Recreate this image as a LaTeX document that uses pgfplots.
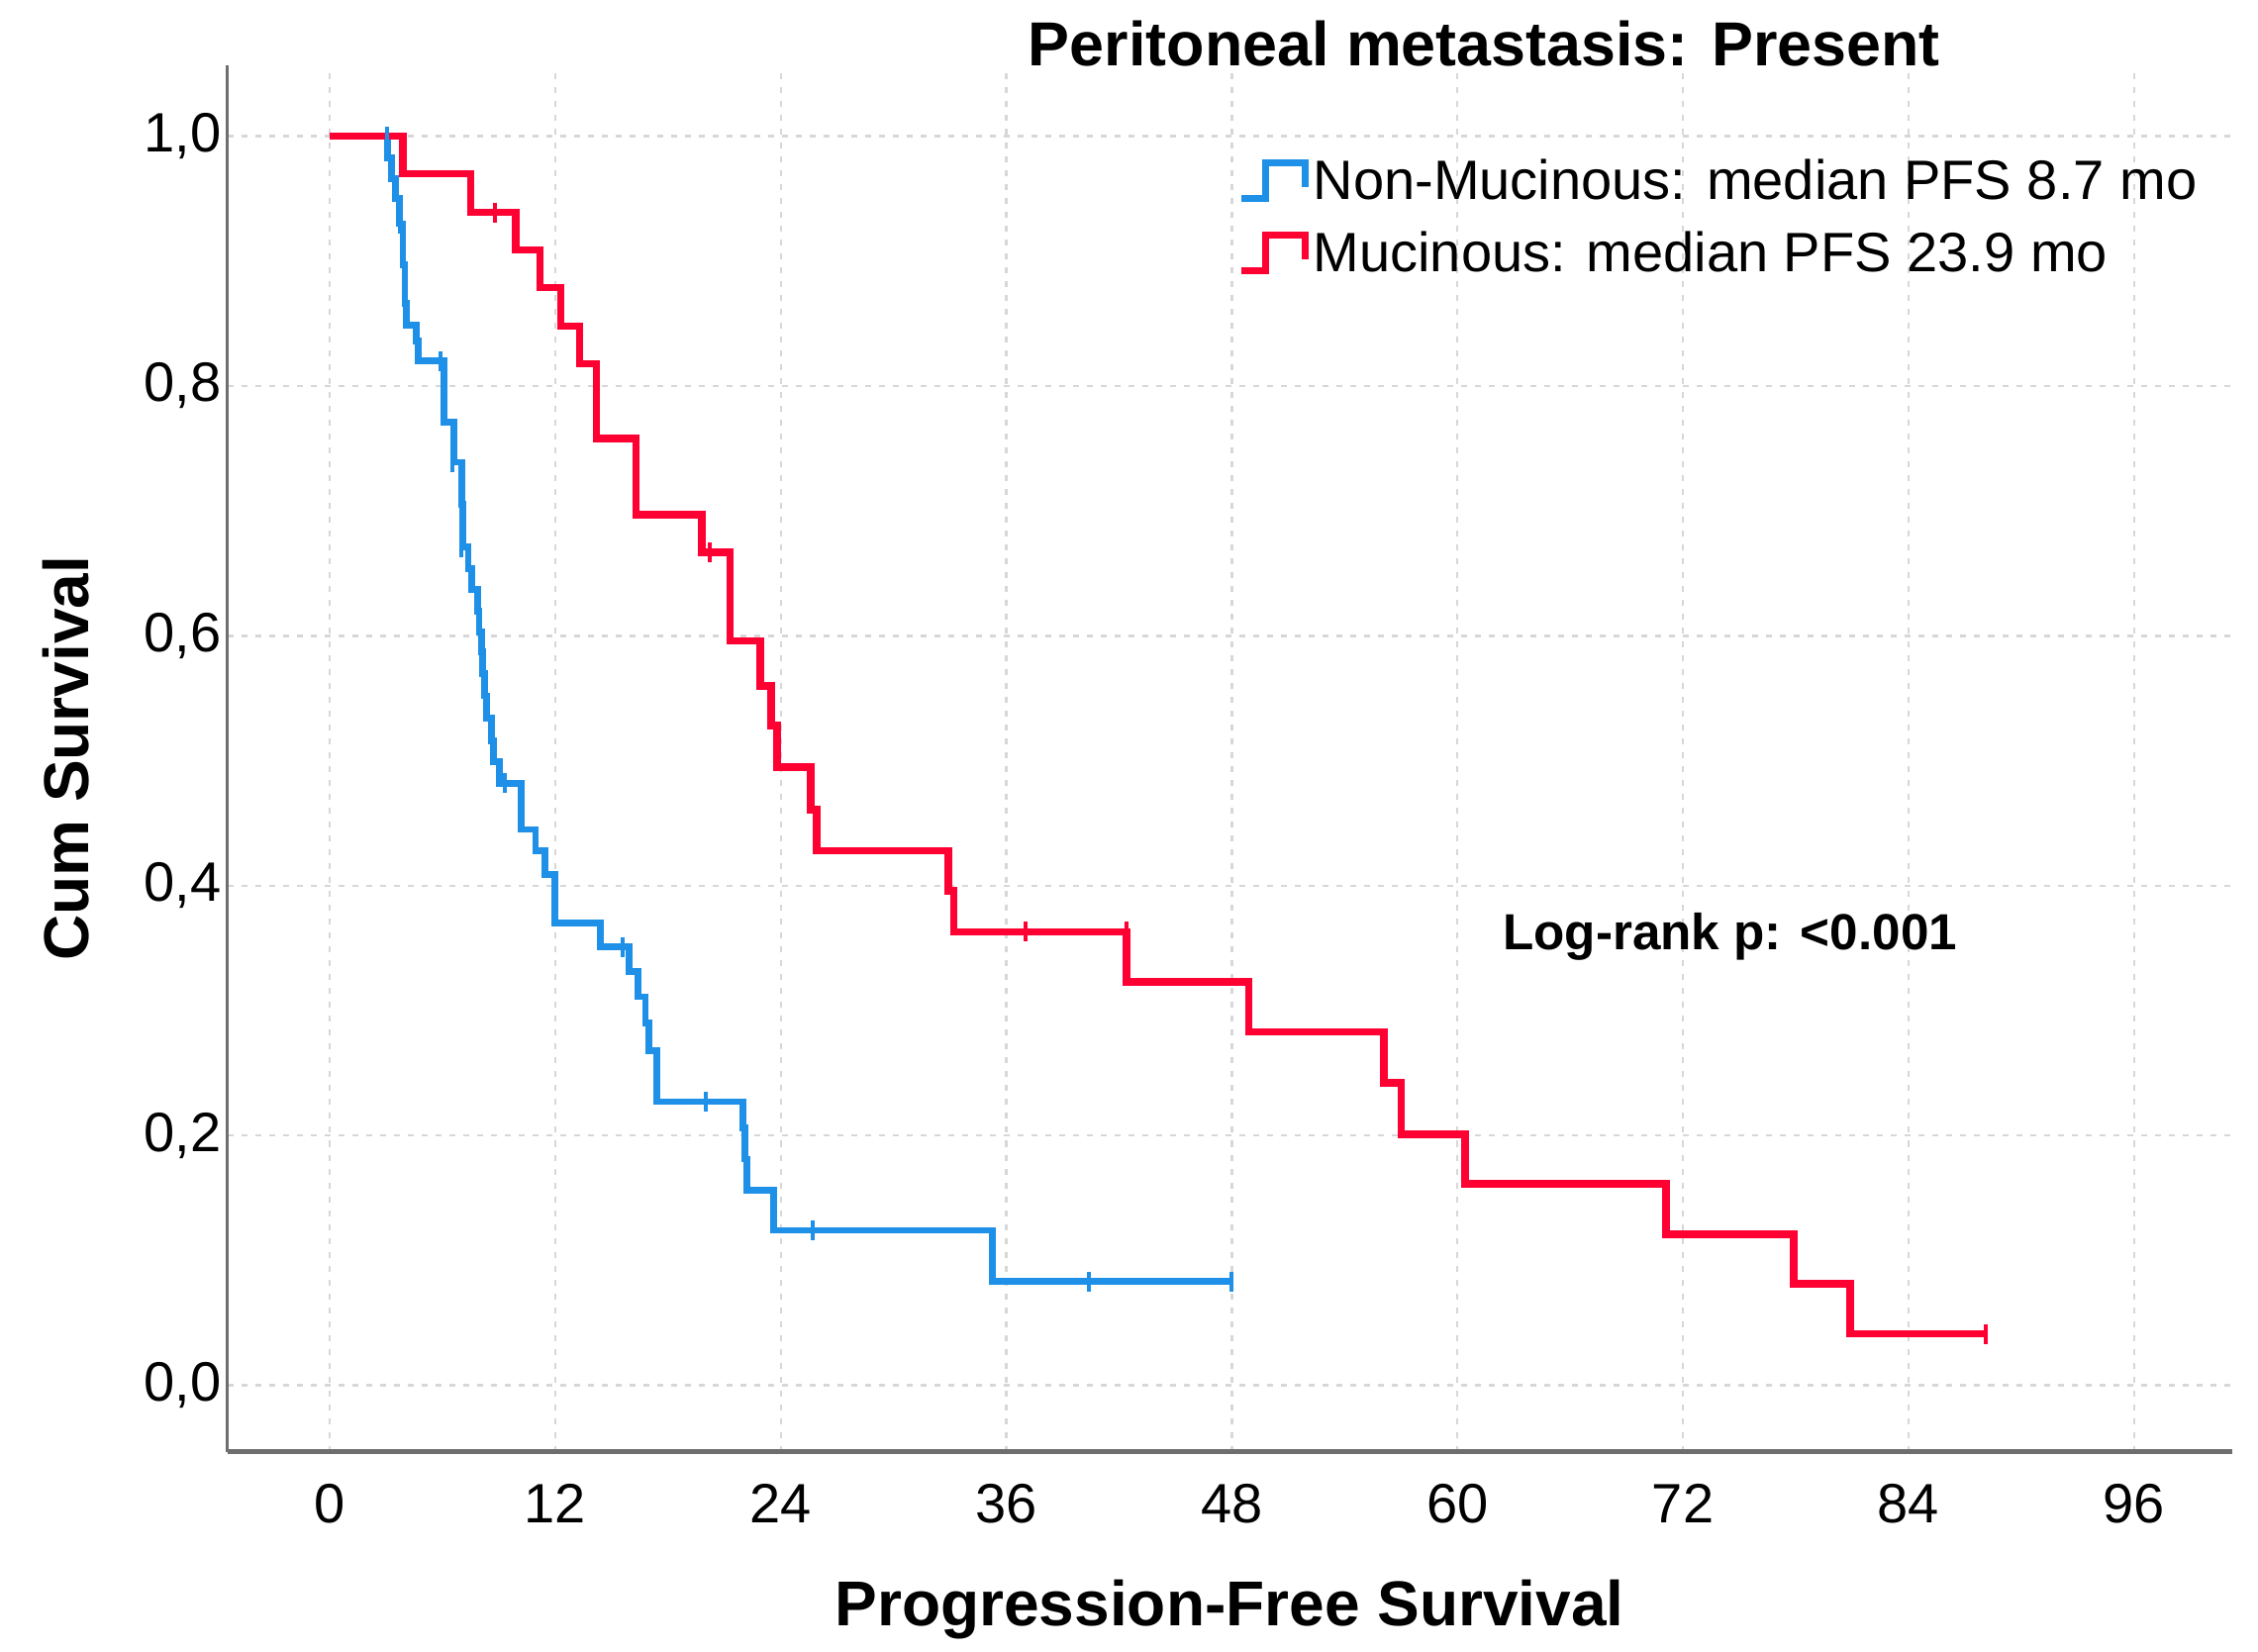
\documentclass[border=0pt]{standalone}
\usepackage{fontspec}
\setmainfont{Liberation Sans}
\usepackage{pgfplots}
\pgfplotsset{compat=1.18}
\definecolor{kmblue}{RGB}{30,144,232}
\definecolor{kmred}{RGB}{255,0,51}
\definecolor{gridgray}{RGB}{215,215,215}
\definecolor{axgray}{RGB}{110,110,110}
\begin{document}
\begin{tikzpicture}
\path[use as bounding box] (-57.4pt,-50.5pt) rectangle (512.6pt,366.5pt);
\begin{axis}[
  scale only axis,
  width=506pt, height=350pt,
  xmin=-5.44, xmax=101.2,
  ymin=-0.0533, ymax=1.0568,
  axis x line*=bottom, axis y line*=left,
  x axis line style={-, axgray, line width=1.4pt},
  y axis line style={-, axgray, line width=0.8pt},
  xtick={0,12,...,96},
  ytick={0,0.2,0.4,0.6,0.8,1.0},
  major tick length=0pt,
  grid=major,
  major grid style={gridgray, line width=0.6pt, dash pattern=on 1.5pt off 2pt},
  /pgf/number format/assume math mode=true,
  tick label style={font=\fontsize{14}{16}\selectfont},
  xticklabel style={yshift=-4.6pt},
  yticklabel style={xshift=2pt, /pgf/number format/.cd, fixed, fixed zerofill, precision=1, use comma},
  xlabel={Progression-Free Survival},
  ylabel={Cum Survival},
  label style={font=\fontsize{16}{19}\selectfont\bfseries},
  xlabel style={at={(axis description cs:0.5,-0.114)}, anchor=center},
  ylabel style={at={(axis description cs:-0.0807,0.5)}, anchor=center, rotate=0},
  clip=false,
  legend style={at={(0.504,0.936)}, anchor=north west, draw=none, fill=none,
    font=\fontsize{14}{16}\selectfont, row sep=4.2pt, inner sep=0pt,
    nodes={inner sep=1.2pt}},
  legend cell align=left,
  legend image code/.code={\draw[#1, line width=1.7pt] (-3pt,-4pt) -- (3pt,-4pt) -- (3pt,5pt) -- (13pt,5pt) -- (13pt,-1pt);},
]
% Non-Mucinous (blue)
\addplot[kmblue, line width=1.7pt, const plot] coordinates {
(0,1.0) (3.1,0.983) (3.3,0.966) (3.5,0.950) (3.7,0.930) (3.9,0.897) (4.0,0.866)
(4.1,0.849) (4.6,0.836) (4.7,0.820) (6.1,0.771) (6.6,0.739) (7.05,0.705) (7.1,0.671)
(7.37,0.654) (7.54,0.637) (7.89,0.620) (7.95,0.603) (8.07,0.587) (8.15,0.570)
(8.24,0.552) (8.35,0.534) (8.59,0.516) (8.7,0.499) (9.03,0.482) (10.2,0.445)
(10.95,0.428) (11.47,0.409) (12.0,0.370) (14.42,0.351) (15.93,0.331) (16.4,0.311)
(16.8,0.290) (17.0,0.268) (17.4,0.227) (21.97,0.206) (22.1,0.181) (22.2,0.156)
(23.63,0.124) (35.26,0.083) (48.0,0.083)
};
\addlegendentry{Non-Mucinous: median PFS 8.7 mo}
% Mucinous (red)
\addplot[kmred, line width=1.9pt, const plot] coordinates {
(0,1.0) (3.9,0.970) (7.5,0.939) (9.9,0.909) (11.2,0.879) (12.3,0.848) (13.3,0.818)
(14.2,0.758) (16.3,0.697) (19.8,0.667) (21.3,0.596) (22.9,0.560) (23.5,0.528)
(23.8,0.495) (25.6,0.461) (25.9,0.428) (32.9,0.396) (33.2,0.363) (42.4,0.323)
(48.9,0.283) (56.1,0.242) (57.0,0.201) (60.4,0.161) (71.1,0.121) (77.9,0.081)
(80.9,0.041) (88.1,0.041)
};
\addlegendentry{Mucinous: median PFS 23.9 mo}
% censor marks
\addplot[kmblue, only marks, mark=|, mark size=2.5pt, mark options={line width=1pt}, forget plot] coordinates {
(3.08,1.0) (3.75,0.93) (3.95,0.897) (4.05,0.866) (5.9,0.820) (6.55,0.739) (7.0,0.671)
(9.3,0.482) (15.6,0.351) (20.0,0.227) (22.15,0.181) (25.7,0.124) (40.4,0.083) (48.0,0.083)
};
\addplot[kmred, only marks, mark=|, mark size=2.5pt, mark options={line width=1pt}, forget plot] coordinates {
(8.8,0.939) (20.2,0.667) (37.0,0.363) (42.4,0.363) (88.1,0.041)
};
\node[anchor=base, font=\fontsize{15.7}{19}\selectfont\bfseries] at (rel axis cs:0.627,1.0) {Peritoneal metastasis: Present};
\node[anchor=center, font=\fontsize{12.8}{16}\selectfont\bfseries] at (axis cs:74.5,0.359) {Log-rank p: <0.001};
\end{axis}
\end{tikzpicture}
\end{document}
